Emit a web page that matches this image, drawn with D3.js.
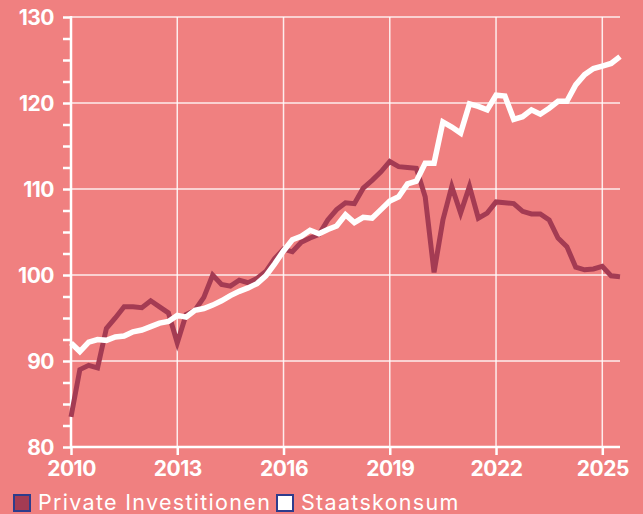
<!DOCTYPE html>
<html><head><meta charset="utf-8">
<script src="https://cdn.jsdelivr.net/npm/d3@7"></script>
<style>
html,body{margin:0;padding:0;background:#F08080;}
svg{display:block;}
text{font-family:Inter, "Noto Sans", sans-serif;}
</style></head>
<body>
<script>
const startYear = 2010;
const privateInvest = [
  83.5, 89.0, 89.5, 89.2,
  93.8, 95.0, 96.3, 96.3,
  96.2, 97.0, 96.3, 95.6,
  92.1, 95.4, 95.9, 97.4,
  100.0, 98.9, 98.7, 99.4,
  99.1, 99.6, 100.4, 101.9,
  103.0, 102.7, 103.8, 104.3,
  104.7, 106.4, 107.6, 108.4,
  108.3, 110.1, 111.0, 112.0,
  113.2, 112.6, 112.5, 112.4,
  109.1, 100.3, 106.4, 110.3,
  107.2, 110.3, 106.6, 107.2,
  108.5, 108.4, 108.3, 107.4,
  107.1, 107.1, 106.4, 104.3,
  103.3, 100.9, 100.6, 100.7,
  101.0, 99.9, 99.8
];
const staatskonsum = [
  92.1, 91.1, 92.2, 92.5,
  92.4, 92.8, 92.9, 93.4,
  93.6, 94.0, 94.4, 94.6,
  95.3, 95.1, 95.9, 96.1,
  96.5, 97.0, 97.6, 98.1,
  98.5, 99.0, 99.9, 101.3,
  102.8, 104.1, 104.5, 105.2,
  104.8, 105.3, 105.7, 107.0,
  106.1, 106.7, 106.6, 107.6,
  108.6, 109.1, 110.6, 110.9,
  113.0, 113.0, 117.8, 117.2,
  116.5, 119.9, 119.6, 119.2,
  120.9, 120.8, 118.1, 118.4,
  119.2, 118.7, 119.4, 120.2,
  120.2, 122.1, 123.3, 124.0,
  124.3, 124.6, 125.4
];
const xTicks = [2010, 2013, 2016, 2019, 2022, 2025];
const yTicks = [80, 90, 100, 110, 120, 130];
const seriesNames = ["Private Investitionen", "Staatskonsum"];

(function(){
const W = 643, H = 514;
const bg = "#F08080", dark = "#A43B53", legendBorder = "#2E3C8C";
const mLeft = 71, mRight = 620, mTop = 17, mBottom = 447;

const svg = d3.select("body").append("svg").attr("width", W).attr("height", H);
svg.append("rect").attr("width", W).attr("height", H).attr("fill", bg);

const x = d3.scaleLinear().domain([2010, 2025.5]).range([mLeft, mRight]);
const y = d3.scaleLinear().domain([80, 130]).range([mBottom, mTop]);

const tq = i => startYear + i / 4;

// grid
const g = svg.append("g");
g.selectAll("line.h").data(yTicks.filter(v => v > 80)).join("line")
  .attr("x1", mLeft).attr("x2", mRight)
  .attr("y1", d => y(d)).attr("y2", d => y(d))
  .attr("stroke", "#fff").attr("stroke-opacity", 0.85).attr("stroke-width", 1.5);
g.selectAll("line.v").data(xTicks.filter(v => v > 2010)).join("line")
  .attr("x1", d => x(d)).attr("x2", d => x(d))
  .attr("y1", mTop).attr("y2", mBottom)
  .attr("stroke", "#fff").attr("stroke-opacity", 0.85).attr("stroke-width", 1.5);

// axes
const yAxis = d3.axisLeft(y).tickValues(d3.range(80, 130.1, 2.5)).tickSize(8)
  .tickFormat(d => yTicks.includes(d) ? d : "");
const ya = svg.append("g").attr("transform", `translate(${mLeft},0)`).call(yAxis);
ya.select(".domain").remove();
ya.selectAll(".tick line").attr("stroke", "#fff").attr("stroke-width", 2.5);
ya.selectAll(".tick text").attr("fill", "#fff").attr("font-size", 21).attr("font-weight", 700)
  .attr("x", -17).attr("dy", "0.36em").style("letter-spacing", "-0.5px");
svg.append("line").attr("x1", mLeft).attr("x2", mLeft).attr("y1", mTop - 1).attr("y2", mBottom + 1)
  .attr("stroke", "#fff").attr("stroke-width", 2.5);

const xAxis = d3.axisBottom(x).tickValues(xTicks).tickSize(8).tickFormat(d3.format("d"));
const xa = svg.append("g").attr("transform", `translate(0,${mBottom})`).call(xAxis);
xa.select(".domain").remove();
xa.selectAll(".tick line").attr("stroke", "#fff").attr("stroke-width", 2.5);
xa.selectAll(".tick text").attr("fill", "#fff").attr("font-size", 21).attr("font-weight", 700)
  .attr("y", 14).attr("dy", "0.71em").style("letter-spacing", "-0.5px");
svg.append("line").attr("x1", mLeft).attr("x2", mRight).attr("y1", mBottom).attr("y2", mBottom)
  .attr("stroke", "#fff").attr("stroke-width", 2.5);

// lines
const line = d3.line().x((d, i) => x(tq(i))).y(d => y(d));
svg.append("path").datum(privateInvest).attr("d", line)
  .attr("fill", "none").attr("stroke", dark).attr("stroke-width", 5);
svg.append("path").datum(staatskonsum).attr("d", line)
  .attr("fill", "none").attr("stroke", "#fff").attr("stroke-width", 5.5);

// legend
const legendItems = [
  {name: seriesNames[0], fill: dark, x: 14},
  {name: seriesNames[1], fill: "#fff", x: 277}
];
const lg = svg.append("g");
legendItems.forEach(it => {
  lg.append("rect").attr("x", it.x).attr("y", 495).attr("width", 16).attr("height", 16)
    .attr("fill", it.fill).attr("stroke", legendBorder).attr("stroke-width", 2);
  lg.append("text").attr("x", it.x + 24).attr("y", 510).text(it.name)
    .attr("fill", "#fff").attr("font-size", 21.5).attr("font-weight", 400)
    .style("letter-spacing", "1.3px");
});
})();
</script>
</body></html>
